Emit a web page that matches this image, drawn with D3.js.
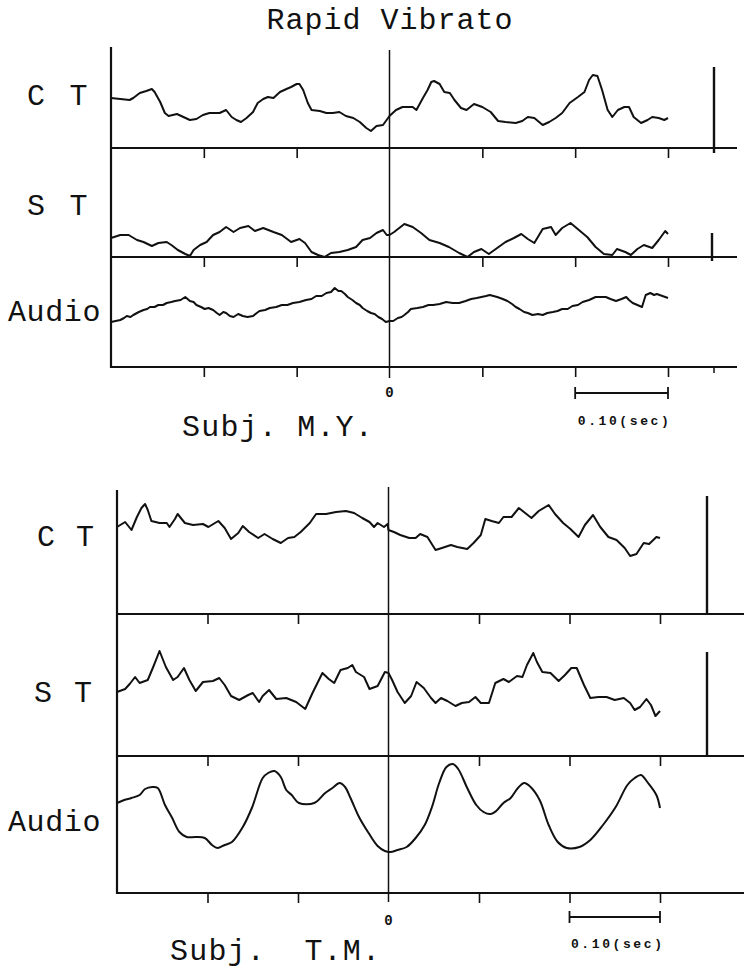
<!DOCTYPE html>
<html>
<head>
<meta charset="utf-8">
<script src="https://cdn.jsdelivr.net/npm/d3@7"></script>
<style>
  html, body { margin: 0; padding: 0; background: #fff; }
  svg { display: block; }
</style>
</head>
<body>
<svg id="chart" width="744" height="972"></svg>
<script>
// ---------------- DATA (time in ms relative to 0, amplitude in arbitrary units) ----------------
const title = "Rapid Vibrato";
const tickTimes = [-200, -100, 0, 100, 200, 300];
const scaleBarTimes = [200, 300];
const scaleBarLabel = "0.10(sec)";
const zeroLabel = "0";
const subjectLabels = ["Subj. M.Y.", "Subj.  T.M."];
const traceLabels = ["C T", "S T", "Audio"];

// Subject M.Y.
const myCT = [[-300,50],[-290,49],[-280,48],[-276,50],[-269,55],[-262,57],[-256,59],[-253,56],[-247,46],[-242,35],[-238,32],[-229,34],[-222,31],[-215,28],[-208,29],[-201,33],[-194,35],[-183,35],[-176,38],[-170,31],[-165,28],[-160,26],[-154,30],[-147,36],[-142,45],[-136,49],[-131,51],[-125,50],[-118,56],[-111,59],[-106,61],[-100,64],[-97,64],[-93,58],[-88,45],[-84,38],[-75,37],[-68,35],[-61,35],[-54,36],[-47,32],[-39,30],[-32,26],[-25,20],[-20,17],[-14,22],[-7,23],[0,32],[7,38],[14,41],[25,41],[29,38],[36,50],[41,58],[45,66],[48,67],[54,64],[59,56],[65,55],[70,48],[77,40],[83,38],[91,44],[100,41],[109,36],[117,27],[125,26],[136,25],[143,27],[149,31],[156,30],[165,23],[172,26],[179,30],[186,35],[194,45],[203,51],[210,56],[215,68],[219,73],[224,72],[229,58],[235,38],[240,31],[246,38],[253,41],[258,41],[263,31],[271,25],[278,28],[283,31],[290,30],[296,28],[300,30]];
const myST = [[-300,19],[-290,22],[-281,22],[-272,17],[-265,15],[-256,11],[-249,14],[-240,15],[-235,12],[-228,7],[-220,3],[-215,1],[-211,7],[-204,12],[-197,15],[-190,22],[-183,25],[-176,30],[-168,25],[-161,29],[-152,31],[-145,26],[-136,29],[-125,25],[-116,22],[-106,15],[-97,18],[-91,14],[-84,5],[-77,2],[-70,0],[-63,4],[-54,5],[-45,7],[-36,10],[-29,17],[-21,19],[-14,24],[-7,27],[-3,22],[0,22],[5,25],[16,33],[25,30],[34,24],[43,17],[54,14],[64,10],[75,4],[84,0],[91,5],[99,8],[107,3],[116,9],[125,15],[134,19],[142,23],[149,18],[156,14],[165,28],[174,30],[179,22],[186,29],[195,34],[204,27],[213,20],[222,10],[231,3],[240,2],[245,8],[254,5],[260,2],[267,8],[274,12],[283,9],[290,17],[297,26],[300,23]];
const myAudio = [[-300,45],[-295,46],[-290,47],[-286,49],[-283,51],[-279,50],[-276,52],[-270,55],[-265,57],[-261,58],[-258,60],[-253,60],[-249,62],[-244,62],[-240,64],[-235,65],[-231,66],[-225,67],[-220,70],[-215,66],[-211,65],[-208,62],[-203,60],[-199,58],[-195,59],[-190,57],[-186,54],[-183,52],[-179,55],[-176,54],[-172,51],[-168,50],[-163,53],[-158,51],[-153,50],[-147,51],[-143,54],[-140,56],[-134,57],[-129,59],[-122,60],[-116,62],[-110,62],[-104,64],[-97,65],[-90,67],[-84,68],[-79,71],[-73,71],[-68,74],[-63,75],[-59,79],[-55,76],[-52,76],[-48,73],[-45,70],[-40,67],[-36,64],[-32,62],[-29,59],[-24,56],[-20,54],[-16,53],[-12,50],[-8,48],[-4,45],[0,46],[4,46],[9,49],[13,50],[16,52],[20,55],[23,58],[30,59],[36,60],[42,62],[47,62],[54,63],[61,65],[68,64],[75,64],[82,66],[88,68],[94,69],[99,70],[104,71],[108,72],[112,71],[116,70],[122,68],[127,66],[132,63],[136,60],[140,58],[145,55],[149,54],[154,52],[160,53],[165,52],[170,54],[176,55],[181,56],[186,58],[192,58],[197,61],[203,62],[208,65],[215,67],[222,70],[228,70],[233,70],[238,68],[244,66],[250,68],[255,70],[258,67],[262,64],[267,62],[272,60],[276,72],[281,74],[285,72],[288,73],[294,71],[300,69]];

// Subject T.M.
const tmCT = [[-300,87],[-291,92],[-284,84],[-278,97],[-273,106],[-269,110],[-266,104],[-262,93],[-253,91],[-245,91],[-242,87],[-236,95],[-233,100],[-225,91],[-216,89],[-205,90],[-199,87],[-188,93],[-181,86],[-174,75],[-166,81],[-161,88],[-154,82],[-144,76],[-137,80],[-128,75],[-119,71],[-111,76],[-104,77],[-97,82],[-87,91],[-80,100],[-69,100],[-58,102],[-47,103],[-38,101],[-29,96],[-21,92],[-16,87],[-12,91],[-5,87],[-1,90],[0,84],[6,82],[13,79],[23,76],[30,76],[35,80],[43,77],[52,64],[59,66],[69,69],[76,67],[87,65],[94,71],[102,79],[107,95],[114,93],[122,91],[127,97],[136,97],[144,106],[151,101],[158,96],[166,103],[177,109],[184,100],[193,91],[201,85],[210,77],[217,89],[226,99],[234,87],[243,77],[252,74],[261,66],[267,58],[274,60],[282,71],[288,70],[296,77],[300,76]];
const tmST = [[-300,64],[-291,67],[-286,72],[-280,79],[-275,73],[-266,76],[-260,89],[-253,105],[-246,89],[-238,76],[-233,79],[-226,88],[-220,76],[-213,65],[-205,74],[-194,75],[-187,78],[-181,71],[-174,60],[-165,56],[-155,61],[-150,63],[-143,54],[-139,60],[-132,66],[-124,57],[-113,58],[-102,54],[-92,47],[-84,63],[-73,83],[-66,77],[-60,73],[-53,86],[-45,88],[-40,91],[-36,84],[-27,79],[-21,67],[-12,70],[-4,84],[0,83],[4,76],[10,64],[18,53],[25,60],[31,74],[39,68],[47,58],[52,53],[58,58],[65,55],[74,50],[81,53],[89,54],[96,59],[102,53],[111,53],[118,73],[127,77],[133,74],[142,80],[148,79],[153,91],[160,103],[164,94],[170,84],[179,83],[188,75],[195,81],[202,88],[208,88],[216,71],[223,58],[232,59],[241,59],[250,56],[260,58],[267,53],[272,46],[278,49],[285,57],[290,51],[295,40],[300,45]];
const tmAudio = [[-300,90],[-292,93],[-284,95],[-275,98],[-269,104],[-261,106],[-255,105],[-247,88],[-239,75],[-231,61],[-223,56],[-213,56],[-203,55],[-195,48],[-189,45],[-181,48],[-173,51],[-161,66],[-151,85],[-139,115],[-133,120],[-126,122],[-119,116],[-113,103],[-107,98],[-99,90],[-82,90],[-70,100],[-62,105],[-54,110],[-48,106],[-42,95],[-32,75],[-22,60],[-12,47],[-4,42],[2,41],[10,43],[20,46],[30,55],[40,68],[48,86],[56,110],[64,126],[71,129],[77,124],[87,105],[97,88],[105,81],[113,79],[119,82],[127,90],[135,95],[143,105],[150,110],[157,106],[167,93],[177,68],[187,51],[197,45],[211,46],[223,53],[237,68],[251,86],[264,108],[272,115],[279,118],[286,111],[296,98],[300,85]];

// ---------------- LAYOUT ----------------
const FONT = "'Liberation Mono', 'Courier New', monospace";
const panels = [
  {
    xRange: [111, 668], axisTop: 47, zeroTop: 50, zeroBottom: 378, rightEnd: 737,
    rows: [
      { data: myCT,    base: 148, label: traceLabels[0], lx: 27, ly: 105, ls: 3.3, calib: [714, 67, 153], smooth: false },
      { data: myST,    base: 257, label: traceLabels[1], lx: 27, ly: 215, ls: 3.3, calib: [712, 233, 261], smooth: false },
      { data: myAudio, base: 367, label: traceLabels[2], lx: 8,  ly: 321, ls: 0.6, calib: null, smooth: false, extraTick: 714 }
    ],
    zeroLabelY: 397, barY: 393, barLabelY: 425, subj: subjectLabels[0], subjX: 182, subjY: 436
  },
  {
    xRange: [117, 660], axisTop: 490, zeroTop: 487, zeroBottom: 902, rightEnd: 744,
    rows: [
      { data: tmCT,    base: 614, label: traceLabels[0], lx: 37, ly: 546, ls: 1.5, calib: [707, 496, 613], smooth: false },
      { data: tmST,    base: 756, label: traceLabels[1], lx: 34, ly: 702, ls: 2, calib: [707, 652, 756], smooth: false },
      { data: tmAudio, base: 893, label: traceLabels[2], lx: 8,  ly: 831, ls: 0.6, calib: null, smooth: true }
    ],
    zeroLabelY: 925, barY: 917, barLabelY: 948, subj: subjectLabels[1], subjX: 170, subjY: 960
  }
];

const svg = d3.select("#chart");
svg.append("rect").attr("width", 744).attr("height", 972).attr("fill", "#fff");

svg.append("text")
  .attr("x", 390).attr("y", 29)
  .attr("text-anchor", "middle")
  .attr("font-family", FONT).attr("font-size", 30)
  .attr("letter-spacing", 1)
  .attr("fill", "#111")
  .text(title);

panels.forEach(p => {
  const g = svg.append("g");
  const x = d3.scaleLinear().domain([-300, 300]).range(p.xRange);
  const x0 = x(-300);
  const lastBase = p.rows[p.rows.length - 1].base;

  p.rows.forEach(r => {
    const y = d3.scaleLinear().domain([0, 100]).range([r.base, r.base - 100]);

    // baseline
    g.append("line")
      .attr("x1", x0).attr("x2", p.rightEnd)
      .attr("y1", r.base).attr("y2", r.base)
      .attr("stroke", "#111").attr("stroke-width", 2.2);

    // ticks via d3 axis
    const ax = d3.axisBottom(x)
      .tickValues(tickTimes.filter(t => t !== 0))
      .tickSizeInner(9).tickSizeOuter(0).tickFormat("");
    const axG = g.append("g").attr("transform", `translate(0,${r.base + 1})`).call(ax);
    axG.select(".domain").remove();
    axG.selectAll(".tick line").attr("stroke", "#111").attr("stroke-width", 1.6);

    if (r.extraTick) {
      g.append("line").attr("x1", r.extraTick).attr("x2", r.extraTick)
        .attr("y1", r.base).attr("y2", r.base + 6)
        .attr("stroke", "#111").attr("stroke-width", 1.5);
    }

    // trace
    const line = d3.line()
      .x(d => x(d[0])).y(d => y(d[1]))
      .curve(r.smooth ? d3.curveCatmullRom.alpha(0.5) : d3.curveLinear);
    g.append("path")
      .datum(r.data)
      .attr("d", line)
      .attr("fill", "none")
      .attr("stroke", "#111")
      .attr("stroke-width", 2)
      .attr("stroke-linejoin", "round");

    // calibration bar
    if (r.calib) {
      g.append("line")
        .attr("x1", r.calib[0]).attr("x2", r.calib[0])
        .attr("y1", r.calib[1]).attr("y2", r.calib[2])
        .attr("stroke", "#111").attr("stroke-width", 2.4);
    }

    // label
    g.append("text")
      .attr("x", r.lx).attr("y", r.ly)
      .attr("font-family", FONT).attr("font-size", 30)
      .attr("letter-spacing", r.ls)
      .attr("xml:space", "preserve")
      .style("white-space", "pre")
      .attr("fill", "#111")
      .text(r.label);
  });

  // left axis
  g.append("line")
    .attr("x1", x0).attr("x2", x0)
    .attr("y1", p.axisTop).attr("y2", lastBase + 1)
    .attr("stroke", "#111").attr("stroke-width", 2.2);

  // zero line
  g.append("line")
    .attr("x1", x(0)).attr("x2", x(0))
    .attr("y1", p.zeroTop).attr("y2", p.zeroBottom)
    .attr("stroke", "#111").attr("stroke-width", 1.5);

  // zero label
  g.append("text")
    .attr("x", x(0)).attr("y", p.zeroLabelY)
    .attr("text-anchor", "middle")
    .attr("font-family", FONT).attr("font-size", 14).attr("font-weight", "bold")
    .attr("fill", "#111")
    .text(zeroLabel);

  // scale bar
  const bx1 = x(scaleBarTimes[0]), bx2 = x(scaleBarTimes[1]);
  g.append("line").attr("x1", bx1).attr("x2", bx2).attr("y1", p.barY).attr("y2", p.barY)
    .attr("stroke", "#111").attr("stroke-width", 1.8);
  [bx1, bx2].forEach(bx => {
    g.append("line").attr("x1", bx).attr("x2", bx).attr("y1", p.barY - 6).attr("y2", p.barY + 6)
      .attr("stroke", "#111").attr("stroke-width", 1.8);
  });
  g.append("text")
    .attr("x", (bx1 + bx2) / 2 + 3).attr("y", p.barLabelY)
    .attr("text-anchor", "middle")
    .attr("font-family", FONT).attr("font-size", 13).attr("font-weight", "bold")
    .attr("letter-spacing", 2.6)
    .attr("fill", "#111")
    .text(scaleBarLabel);

  // subject label
  g.append("text")
    .attr("x", p.subjX).attr("y", p.subjY)
    .attr("font-family", FONT).attr("font-size", 30)
    .attr("letter-spacing", 1.2)
    .attr("xml:space", "preserve")
    .style("white-space", "pre")
    .attr("fill", "#111")
    .text(p.subj);
});
</script>
</body>
</html>
